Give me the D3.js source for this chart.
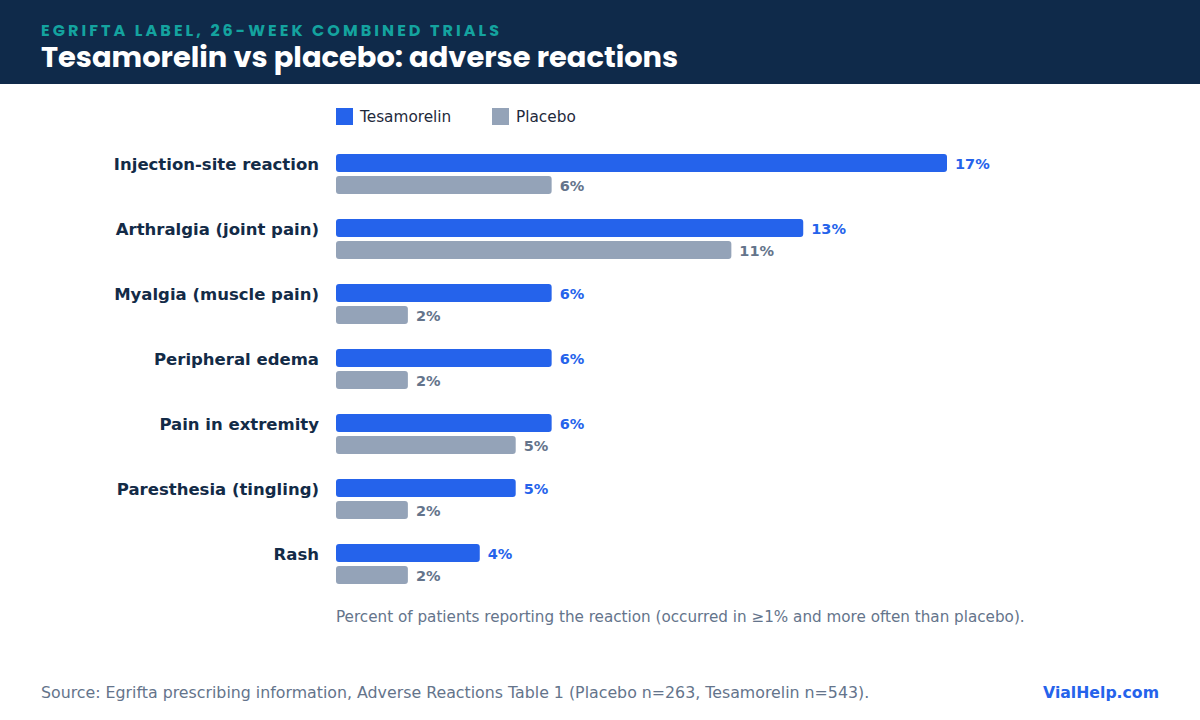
<!DOCTYPE html>
<html>
<head>
<meta charset="utf-8">
<script src="https://cdn.jsdelivr.net/npm/d3@7"></script>
<style>
  html, body { margin: 0; padding: 0; background: #ffffff; }
  svg { display: block; }
</style>
</head>
<body>
<svg id="chart" width="1200" height="720"></svg>
<script>
const categories = [
  "Injection-site reaction",
  "Arthralgia (joint pain)",
  "Myalgia (muscle pain)",
  "Peripheral edema",
  "Pain in extremity",
  "Paresthesia (tingling)",
  "Rash"
];
const tesamorelin = [17, 13, 6, 6, 6, 5, 4];
const placebo = [6, 11, 2, 2, 5, 2, 2];
const seriesNames = ["Tesamorelin", "Placebo"];

const W = 1200, H = 720;
const svg = d3.select("#chart");
const navy = "#0f2a4a";
const blue = "#2563eb";
const gray = "#94a3b8";
const slate = "#64748b";

// Header
svg.append("rect").attr("x", 0).attr("y", 0).attr("width", W).attr("height", 84).attr("fill", navy);
svg.append("text").attr("x", 41).attr("y", 35.5)
  .attr("font-family", "Poppins, Lato, 'Open Sans', sans-serif")
  .attr("font-weight", 700).attr("font-size", 16).attr("letter-spacing", 3.05)
  .attr("fill", "#14a39f").text("EGRIFTA LABEL, 26-WEEK COMBINED TRIALS");
svg.append("text").attr("x", 41).attr("y", 67)
  .attr("font-family", "Poppins, Lato, 'Open Sans', sans-serif")
  .attr("font-weight", 700).attr("font-size", 28.9)
  .attr("fill", "#ffffff").text("Tesamorelin vs placebo: adverse reactions");

// Scales
const x = d3.scaleLinear().domain([0, 17]).range([336, 947]);
const y = d3.scaleBand().domain(categories).range([152, 607]).paddingInner(0).paddingOuter(0);
const barH = 18, gap = 4;

const data = categories.map((c, i) => ({ c, t: tesamorelin[i], p: placebo[i] }));

// Legend
const legend = svg.append("g");
const legendX = [336, 492];
seriesNames.forEach((n, i) => {
  legend.append("rect").attr("x", legendX[i]).attr("y", 108).attr("width", 17).attr("height", 17)
    .attr("fill", i === 0 ? blue : gray);
  legend.append("text").attr("x", legendX[i] + 24).attr("y", 122)
    .attr("font-family", "'DejaVu Sans', sans-serif").attr("font-size", 15.3)
    .attr("fill", "#1e293b").text(n);
});

const g = svg.append("g");
const rows = g.selectAll("g.row").data(data).join("g").attr("class", "row")
  .attr("transform", d => `translate(0,${y(d.c) + 2})`);

rows.append("text")
  .attr("x", 319).attr("y", barH / 2 + 2)
  .attr("text-anchor", "end").attr("dominant-baseline", "middle")
  .attr("font-family", "'DejaVu Sans', sans-serif").attr("font-weight", 700).attr("font-size", 16.5)
  .attr("fill", "#132b47").text(d => d.c);

rows.append("rect")
  .attr("x", x(0)).attr("y", 0)
  .attr("width", d => x(d.t) - x(0)).attr("height", barH)
  .attr("rx", 3).attr("fill", blue);
rows.append("rect")
  .attr("x", x(0)).attr("y", barH + gap)
  .attr("width", d => x(d.p) - x(0)).attr("height", barH)
  .attr("rx", 3).attr("fill", gray);

rows.append("text")
  .attr("x", d => x(d.t) + 8).attr("y", barH / 2 + 1.5)
  .attr("dominant-baseline", "middle")
  .attr("font-family", "'DejaVu Sans', sans-serif").attr("font-weight", 700).attr("font-size", 14.5)
  .attr("fill", blue).text(d => d.t + "%");
rows.append("text")
  .attr("x", d => x(d.p) + 8).attr("y", barH + gap + barH / 2 + 1.5)
  .attr("dominant-baseline", "middle")
  .attr("font-family", "'DejaVu Sans', sans-serif").attr("font-weight", 700).attr("font-size", 14.5)
  .attr("fill", slate).text(d => d.p + "%");

// Note
svg.append("text").attr("x", 336).attr("y", 622)
  .attr("font-family", "'DejaVu Sans', sans-serif").attr("font-size", 15.2)
  .attr("fill", slate)
  .text("Percent of patients reporting the reaction (occurred in \u22651% and more often than placebo).");

// Footer
svg.append("text").attr("x", 41).attr("y", 698)
  .attr("font-family", "'DejaVu Sans', sans-serif").attr("font-size", 15.8)
  .attr("fill", slate)
  .text("Source: Egrifta prescribing information, Adverse Reactions Table 1 (Placebo n=263, Tesamorelin n=543).");
svg.append("text").attr("x", 1159).attr("y", 698).attr("text-anchor", "end")
  .attr("font-family", "'DejaVu Sans', sans-serif").attr("font-weight", 700).attr("font-size", 15.7)
  .attr("fill", blue).text("VialHelp.com");
</script>
</body>
</html>
